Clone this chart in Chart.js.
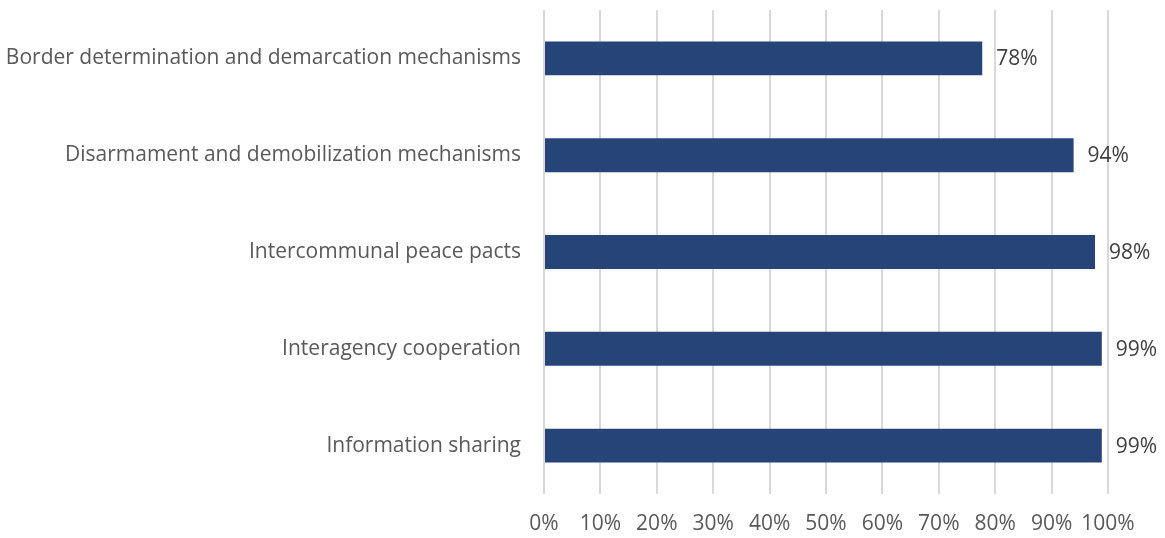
<!DOCTYPE html>
<html>
<head>
<meta charset="utf-8">
<script src="https://cdn.jsdelivr.net/npm/chart.js@4"></script>
<style>
  html, body { margin: 0; padding: 0; background: #fff; }
  #wrap { width: 1165px; height: 538px; position: relative; }
</style>
</head>
<body>
<div id="wrap"><canvas id="chart"></canvas></div>
<script>
// categories, top to bottom
const categories = [
  'Border determination and demarcation mechanisms',
  'Disarmament and demobilization mechanisms',
  'Intercommunal peace pacts',
  'Interagency cooperation',
  'Information sharing',
];
// share (%)
const values = [77.7, 93.9, 97.7, 98.9, 98.9];
// printed labels next to bars
const valueLabels = ['78%', '94%', '98%', '99%', '99%'];

const textGrey = '#595959';

// draw the % labels at the end of each bar
const barLabels = {
  id: 'barLabels',
  afterDatasetsDraw(chart) {
    const ctx = chart.ctx;
    const meta = chart.getDatasetMeta(0);
    ctx.save();
    ctx.font = '21px "Open Sans"';
    ctx.fillStyle = '#404040';
    ctx.textAlign = 'left';
    ctx.textBaseline = 'middle';
    meta.data.forEach((bar, i) => {
      ctx.fillText(valueLabels[i], bar.x + 14, bar.y + 1);
    });
    ctx.restore();
  }
};

const ctx = document.querySelector('#chart').getContext('2d');
const chart = new Chart(ctx, {
  type: 'bar',
  data: {
    labels: categories,
    datasets: [{
      data: values,
      backgroundColor: '#264478',
      barPercentage: 0.7,
      categoryPercentage: 0.5,
    }],
  },
  options: {
    indexAxis: 'y',
    responsive: true,
    maintainAspectRatio: false,
    animation: false,
    layout: { padding: { top: 10, right: 57, left: 0, bottom: 0 } },
    plugins: { legend: { display: false }, tooltip: { enabled: false } },
    scales: {
      x: {
        min: 0,
        max: 100,
        afterFit: (s) => { s.height = 44; s.paddingLeft = 0; s.paddingRight = 0; },
        border: { display: false },
        grid: { color: '#d9d9d9', lineWidth: 2, drawTicks: false },
        ticks: {
          stepSize: 10,
          padding: 17,
          color: textGrey,
          font: { family: 'Open Sans', size: 21 },
          callback: (v) => v + '%',
          maxRotation: 0,
          autoSkip: false,
        },
      },
      y: {
        afterFit: (s) => { s.width = 544; s.paddingTop = 0; s.paddingBottom = 0; },
        border: { display: false },
        grid: { display: false, drawTicks: false },
        ticks: {
          padding: 23,
          color: textGrey,
          font: { family: 'Open Sans', size: 21 },
        },
      },
    },
  },
  plugins: [barLabels],
});
</script>
</body>
</html>
